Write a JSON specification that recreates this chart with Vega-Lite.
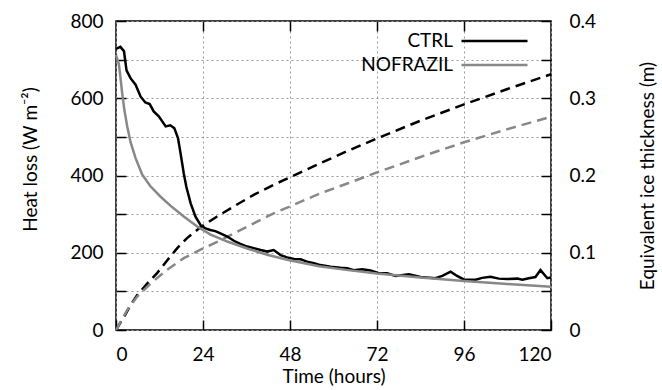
{
  "$schema": "https://vega.github.io/schema/vega-lite/v6.json",
  "width": 435,
  "height": 309,
  "autosize": {"type": "none"},
  "padding": {"left": 116, "top": 21, "right": 111, "bottom": 60},
  "config": {
    "font": "Lato",
    "view": {"stroke": "#000", "strokeWidth": 1.5},
    "axis": {
      "domain": false,
      "labelFontSize": 19,
      "labelColor": "#000",
      "titleFontSize": 19,
      "titleFontWeight": "normal",
      "titleColor": "#000",
      "tickColor": "#000",
      "tickWidth": 1.5,
      "gridColor": "#999",
      "gridDash": [2, 3],
      "gridWidth": 1
    }
  },
  "datasets": {
    "heat": [
      {"t": 0, "series": "CTRL", "v": 728}, {"t": 1.2, "series": "CTRL", "v": 733}, {"t": 2.2, "series": "CTRL", "v": 722},
      {"t": 2.9, "series": "CTRL", "v": 672}, {"t": 4, "series": "CTRL", "v": 652}, {"t": 5.4, "series": "CTRL", "v": 635},
      {"t": 6.8, "series": "CTRL", "v": 604}, {"t": 8.1, "series": "CTRL", "v": 589}, {"t": 9.3, "series": "CTRL", "v": 585},
      {"t": 10.4, "series": "CTRL", "v": 566}, {"t": 11.8, "series": "CTRL", "v": 553}, {"t": 13.7, "series": "CTRL", "v": 527},
      {"t": 15, "series": "CTRL", "v": 530}, {"t": 16.1, "series": "CTRL", "v": 522}, {"t": 17.1, "series": "CTRL", "v": 497},
      {"t": 17.8, "series": "CTRL", "v": 458}, {"t": 18.7, "series": "CTRL", "v": 405}, {"t": 19.4, "series": "CTRL", "v": 371},
      {"t": 20.6, "series": "CTRL", "v": 328}, {"t": 21.9, "series": "CTRL", "v": 294}, {"t": 23.3, "series": "CTRL", "v": 272},
      {"t": 24.7, "series": "CTRL", "v": 263}, {"t": 26, "series": "CTRL", "v": 259}, {"t": 27.4, "series": "CTRL", "v": 256},
      {"t": 28.8, "series": "CTRL", "v": 250}, {"t": 30.7, "series": "CTRL", "v": 242}, {"t": 32.5, "series": "CTRL", "v": 231},
      {"t": 34.3, "series": "CTRL", "v": 223}, {"t": 36.2, "series": "CTRL", "v": 216}, {"t": 38, "series": "CTRL", "v": 212},
      {"t": 39.9, "series": "CTRL", "v": 207}, {"t": 41.7, "series": "CTRL", "v": 203}, {"t": 43.5, "series": "CTRL", "v": 207},
      {"t": 45.4, "series": "CTRL", "v": 194}, {"t": 47.2, "series": "CTRL", "v": 188}, {"t": 49.1, "series": "CTRL", "v": 184},
      {"t": 50.9, "series": "CTRL", "v": 183}, {"t": 52.7, "series": "CTRL", "v": 177}, {"t": 54.6, "series": "CTRL", "v": 173},
      {"t": 56.4, "series": "CTRL", "v": 168}, {"t": 59.2, "series": "CTRL", "v": 164}, {"t": 61.9, "series": "CTRL", "v": 161},
      {"t": 63.8, "series": "CTRL", "v": 160}, {"t": 65.6, "series": "CTRL", "v": 155}, {"t": 67.9, "series": "CTRL", "v": 157},
      {"t": 70.2, "series": "CTRL", "v": 154}, {"t": 72.5, "series": "CTRL", "v": 147}, {"t": 74.8, "series": "CTRL", "v": 147},
      {"t": 77.1, "series": "CTRL", "v": 140}, {"t": 80.8, "series": "CTRL", "v": 144}, {"t": 84, "series": "CTRL", "v": 137},
      {"t": 88.1, "series": "CTRL", "v": 134}, {"t": 90, "series": "CTRL", "v": 140}, {"t": 92.3, "series": "CTRL", "v": 151},
      {"t": 94.1, "series": "CTRL", "v": 140}, {"t": 95.9, "series": "CTRL", "v": 131}, {"t": 99.2, "series": "CTRL", "v": 130},
      {"t": 101, "series": "CTRL", "v": 135}, {"t": 103.3, "series": "CTRL", "v": 138}, {"t": 105.6, "series": "CTRL", "v": 133},
      {"t": 107.9, "series": "CTRL", "v": 132}, {"t": 110.7, "series": "CTRL", "v": 133}, {"t": 112.1, "series": "CTRL", "v": 130},
      {"t": 113.9, "series": "CTRL", "v": 134}, {"t": 115.7, "series": "CTRL", "v": 137}, {"t": 117.1, "series": "CTRL", "v": 155},
      {"t": 119, "series": "CTRL", "v": 134}, {"t": 120, "series": "CTRL", "v": 136},
      {"t": 0, "series": "NOFRAZIL", "v": 712}, {"t": 0.8, "series": "NOFRAZIL", "v": 688}, {"t": 1.2, "series": "NOFRAZIL", "v": 656},
      {"t": 1.7, "series": "NOFRAZIL", "v": 613}, {"t": 2.3, "series": "NOFRAZIL", "v": 570}, {"t": 3.1, "series": "NOFRAZIL", "v": 527},
      {"t": 4, "series": "NOFRAZIL", "v": 487}, {"t": 5.4, "series": "NOFRAZIL", "v": 445}, {"t": 7.2, "series": "NOFRAZIL", "v": 403},
      {"t": 9.5, "series": "NOFRAZIL", "v": 372}, {"t": 12.3, "series": "NOFRAZIL", "v": 345}, {"t": 15, "series": "NOFRAZIL", "v": 322},
      {"t": 18.7, "series": "NOFRAZIL", "v": 294}, {"t": 22.4, "series": "NOFRAZIL", "v": 268}, {"t": 26.1, "series": "NOFRAZIL", "v": 247},
      {"t": 30.7, "series": "NOFRAZIL", "v": 229}, {"t": 36.2, "series": "NOFRAZIL", "v": 211}, {"t": 41.7, "series": "NOFRAZIL", "v": 195},
      {"t": 47.2, "series": "NOFRAZIL", "v": 182}, {"t": 56, "series": "NOFRAZIL", "v": 165}, {"t": 64, "series": "NOFRAZIL", "v": 155},
      {"t": 72, "series": "NOFRAZIL", "v": 146}, {"t": 84, "series": "NOFRAZIL", "v": 136}, {"t": 96, "series": "NOFRAZIL", "v": 127},
      {"t": 108, "series": "NOFRAZIL", "v": 119}, {"t": 120, "series": "NOFRAZIL", "v": 112}
    ],
    "ice": [
      {"t": 0, "series": "CTRL", "h": 0}, {"t": 2.2, "series": "CTRL", "h": 0.017}, {"t": 4, "series": "CTRL", "h": 0.032},
      {"t": 5.8, "series": "CTRL", "h": 0.045}, {"t": 8.6, "series": "CTRL", "h": 0.06}, {"t": 11.4, "series": "CTRL", "h": 0.074},
      {"t": 14.1, "series": "CTRL", "h": 0.09}, {"t": 16.9, "series": "CTRL", "h": 0.106}, {"t": 19.6, "series": "CTRL", "h": 0.119},
      {"t": 23.3, "series": "CTRL", "h": 0.133}, {"t": 27.9, "series": "CTRL", "h": 0.147}, {"t": 32.5, "series": "CTRL", "h": 0.16},
      {"t": 38, "series": "CTRL", "h": 0.175}, {"t": 43.5, "series": "CTRL", "h": 0.188}, {"t": 48.1, "series": "CTRL", "h": 0.198},
      {"t": 56.4, "series": "CTRL", "h": 0.216}, {"t": 64, "series": "CTRL", "h": 0.232}, {"t": 72, "series": "CTRL", "h": 0.248},
      {"t": 84, "series": "CTRL", "h": 0.271}, {"t": 96, "series": "CTRL", "h": 0.292}, {"t": 108, "series": "CTRL", "h": 0.312},
      {"t": 120, "series": "CTRL", "h": 0.331},
      {"t": 0, "series": "NOFRAZIL", "h": 0}, {"t": 3.1, "series": "NOFRAZIL", "h": 0.026}, {"t": 5.8, "series": "NOFRAZIL", "h": 0.043},
      {"t": 9.5, "series": "NOFRAZIL", "h": 0.06}, {"t": 14.1, "series": "NOFRAZIL", "h": 0.078}, {"t": 18.7, "series": "NOFRAZIL", "h": 0.093},
      {"t": 23.3, "series": "NOFRAZIL", "h": 0.104}, {"t": 27.9, "series": "NOFRAZIL", "h": 0.114}, {"t": 32.5, "series": "NOFRAZIL", "h": 0.125},
      {"t": 38, "series": "NOFRAZIL", "h": 0.138}, {"t": 43.5, "series": "NOFRAZIL", "h": 0.151}, {"t": 49, "series": "NOFRAZIL", "h": 0.162},
      {"t": 56.4, "series": "NOFRAZIL", "h": 0.177}, {"t": 64, "series": "NOFRAZIL", "h": 0.19}, {"t": 72, "series": "NOFRAZIL", "h": 0.204},
      {"t": 84, "series": "NOFRAZIL", "h": 0.224}, {"t": 96, "series": "NOFRAZIL", "h": 0.243}, {"t": 108, "series": "NOFRAZIL", "h": 0.26},
      {"t": 120, "series": "NOFRAZIL", "h": 0.276}
    ]
  },
  "layer": [
    {
      "data": {"name": "ice"},
      "mark": {"type": "line", "strokeWidth": 2.5, "strokeDash": [10, 6]},
      "encoding": {
        "x": {"field": "t", "type": "quantitative", "scale": {"domain": [0, 120], "nice": false},
          "axis": {"orient": "top", "values": [24, 48, 72, 96], "labels": false, "grid": false, "tickSize": -10, "title": null}},
        "y": {"field": "h", "type": "quantitative", "scale": {"domain": [0, 0.4], "nice": false},
          "axis": {"orient": "right", "values": [0, 0.05, 0.1, 0.15, 0.2, 0.25, 0.3, 0.35, 0.4], "format": "~g",
            "labelExpr": "datum.label.length <= 3 ? datum.label : ''", "grid": false, "tickSize": -10, "labelPadding": 28,
            "title": "Equivalent ice thickness (m)", "titleAngle": -90, "titlePadding": 62}},
        "color": {"field": "series", "type": "nominal", "scale": {"domain": ["CTRL", "NOFRAZIL"], "range": ["#000000", "#888888"]}}
      }
    },
    {
      "data": {"name": "heat"},
      "mark": {"type": "line", "strokeWidth": 2.5},
      "encoding": {
        "x": {"field": "t", "type": "quantitative", "scale": {"domain": [0, 120], "nice": false},
          "axis": {"orient": "bottom", "values": [0, 24, 48, 72, 96, 120], "grid": true, "tickSize": -10, "labelPadding": 25,
            "title": "Time (hours)", "titlePadding": 3}},
        "y": {"field": "v", "type": "quantitative", "scale": {"domain": [0, 800], "nice": false},
          "axis": {"orient": "left", "values": [0, 100, 200, 300, 400, 500, 600, 700, 800],
            "labelExpr": "datum.value % 200 === 0 ? datum.label : ''", "grid": true, "tickSize": -10, "labelPadding": 23,
            "title": "Heat loss (W m⁻²)", "titlePadding": 29, "titleY": 138}},
        "color": {"field": "series", "type": "nominal", "scale": {"domain": ["CTRL", "NOFRAZIL"], "range": ["#000000", "#888888"]},
          "legend": {"orient": "none", "legendX": 369, "legendY": 10.5, "title": null, "symbolType": "M-6.6,0H6.6", "symbolSize": 100,
            "symbolStrokeWidth": 2.5, "labelAlign": "right", "labelOffset": -51, "labelFontSize": 19, "labelColor": "#000",
            "padding": 0, "rowPadding": 4}}
      }
    }
  ],
  "resolve": {"scale": {"y": "independent"}, "axis": {"x": "independent", "y": "independent"}}
}
